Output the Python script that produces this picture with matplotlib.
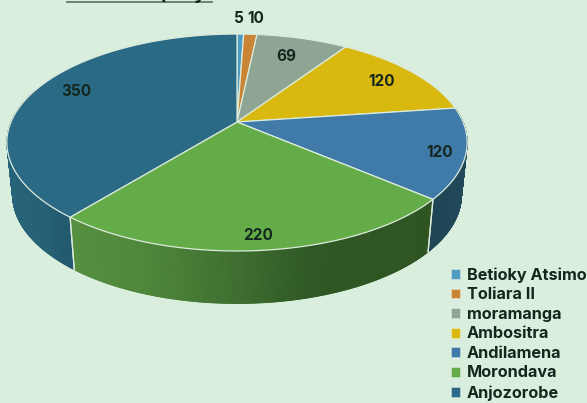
import numpy as np
import matplotlib
matplotlib.use("Agg")
import matplotlib.pyplot as plt
from matplotlib.patches import Patch, Polygon
from matplotlib.collections import PolyCollection
from matplotlib.colors import to_rgb

categories = ["Betioky Atsimo", "Toliara II", "moramanga", "Ambositra",
              "Andilamena", "Morondava", "Anjozorobe"]
values = [5, 10, 69, 120, 120, 220, 350]
colors = ["#4f9cc0", "#c98535", "#8fa593", "#d9b90f", "#3f7aa8", "#64ac48", "#2a6a85"]
label_radius = [1.22, 1.22, 0.77, 0.80, 0.90, 0.90, 0.78]
label_dx = [-2, 3, -3, 3, -2, -1, -2]
label_dy = [0, 0, 1, 1, 3, 1, -5]
title_fragments = ["(", "y"]

BG = "#d9eedc"
RIM = "#dcebdc"
INK = "#14261e"
FONT = ["Inter", "DejaVu Sans"]

# projection of the tilted disc
CX, CY = 237.0, 122.0
B, A, K = 226.0, 104.6, -0.189
DEPTH, SHRINK = 52.5, 0.975

def project(theta, r=1.0):
    x, y = r * np.sin(theta), -r * np.cos(theta)
    w = 1 + K * y
    return CX + B * x / w, CY + A * y / w

def lower(px, py):
    return CX + (px - CX) * SHRINK, py + DEPTH

def ramp(px, stops):
    xs = [s[0] for s in stops]
    cols = np.array([to_rgb(s[1]) for s in stops])
    return [tuple(np.interp(v, xs, cols[:, i]) for i in range(3)) for v in px]

side_stops = {
    4: [(420, "#1f4554"), (470, "#21495a")],
    5: [(70, "#558f3f"), (140, "#4f883b"), (230, "#3f7030"), (310, "#2f5824"), (432, "#2e5422")],
    6: [(0, "#27647a"), (40, "#266276"), (75, "#20566c")],
}

fig = plt.figure(figsize=(5.87, 4.03), dpi=100, facecolor=BG)
ax = fig.add_axes([0, 0, 1, 1])
ax.set_xlim(0, 587)
ax.set_ylim(403, 0)
ax.axis("off")

total = sum(values)
edges = np.concatenate([[0], np.cumsum(values)]) / total * 2 * np.pi

# sides
for i, stops in side_stops.items():
    th = np.linspace(edges[i], edges[i + 1], 400)
    px, py = project(th)
    keep = (np.cos(th) < 0.32)
    px, py, = px[keep], py[keep]
    qx, qy = lower(px, py)
    polys = [[(px[j], py[j]), (px[j + 1], py[j + 1]), (qx[j + 1], qy[j + 1]), (qx[j], qy[j])]
             for j in range(len(px) - 1)]
    cs = ramp((px[:-1] + px[1:]) / 2, stops)
    ax.add_collection(PolyCollection(polys, facecolors=cs, edgecolors=cs, linewidths=0.6, zorder=2))
    for j in (0, -1):
        if abs(th[keep][j] - edges[i]) < 1e-6 or abs(th[keep][j] - edges[i + 1]) < 1e-6:
            ax.plot([px[j], qx[j]], [py[j], qy[j]], color=RIM, lw=0.9, zorder=3)

# top face
for i, col in enumerate(colors):
    th = np.linspace(edges[i], edges[i + 1], 200)
    px, py = project(th)
    ax.add_patch(Polygon(np.r_[[[CX, CY]], np.c_[px, py]], closed=True, facecolor=col,
                         edgecolor=RIM, lw=0.9, zorder=4))

# value labels
for i, v in enumerate(values):
    mid = (edges[i] + edges[i + 1]) / 2
    lx, ly = project(mid, label_radius[i])
    ax.text(lx + label_dx[i], ly + label_dy[i], str(v), ha="center", va="center", fontsize=11,
            fontweight="bold", color=INK, family=FONT, zorder=6)

# cropped title: only the descenders and the rule fall inside the picture
ax.plot([66, 213], [2, 2], color="#737f73", lw=1.4, zorder=5, solid_capstyle="butt")
for frag, tx in zip(title_fragments, (162, 200)):
    ax.text(tx, -1, frag, ha="center", va="baseline", fontsize=14, fontweight="bold",
            color=INK, family=FONT, zorder=6, clip_on=True)

# legend
handles = [Patch(facecolor=c, edgecolor="#ffffff80", lw=0.5) for c in colors]
ax.legend(handles, categories, loc="lower left", bbox_to_anchor=(447 / 587, -0.004), frameon=False,
          prop={"family": FONT, "weight": "bold", "size": 11.7}, labelcolor=INK,
          handlelength=0.55, handleheight=0.55, handletextpad=0.42, labelspacing=0.28,
          borderpad=0.0, borderaxespad=0.25)

fig.savefig("out.png", dpi=100, facecolor=BG)
